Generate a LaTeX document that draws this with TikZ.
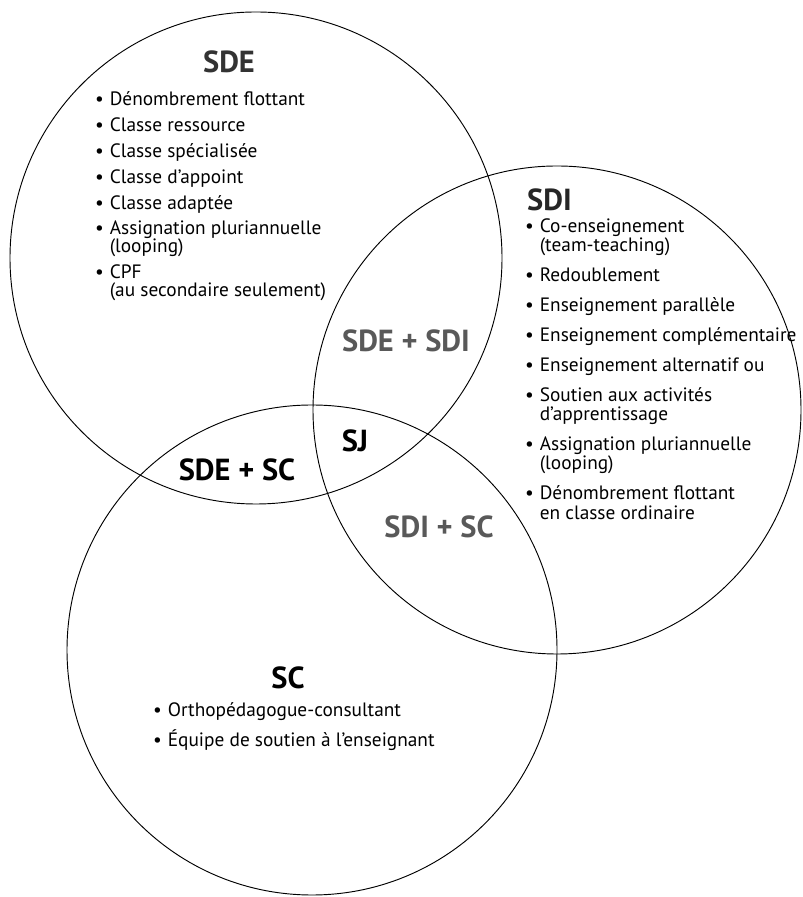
\documentclass[tikz,border=0pt]{standalone}
\usepackage{fontspec}
\setmainfont{PT Sans}
\usetikzlibrary{positioning}

\tikzset{
  cercle/.style={line width=0.8},
  titre/.style={font=\bfseries\fontsize{26}{28}\selectfont, inner sep=0},
  liste/.style={align=left, inner sep=0, anchor=north west, font=\fontsize{16.5}{15.4}\selectfont},
}
\newcommand{\puce}{\textbullet\hspace{5pt}}
\newcommand{\retrait}{\phantom{\textbullet}\hspace{5pt}}

\begin{document}
\begin{tikzpicture}
\useasboundingbox (0,0) rectangle (24.06,26.91);
% les trois cercles
\draw[cercle](7.68,19.17) circle (7.38);
\draw[cercle](16.71,14.61) circle (7.32);
\draw[cercle](9.36,7.41) circle (7.35);
% titres
\node[titre, text=black!80] (sde) at (6.87,25.05) {SDE};
\node[titre, text=black!85, anchor=west] (sdi) at (15.81,20.91) {SDI};
\node[titre] (sc) at (8.64,6.57) {SC};
\node[titre, text=black!65] (sdesdi) at (12.18,16.68) {SDE + SDI};
\node[titre] (sj) at (10.65,13.68) {SJ};
\node[titre] (sdesc) at (7.11,12.81) {SDE + SC};
\node[titre, text=black!65] (sdisc) at (13.17,11.10) {SDI + SC};
% listes
\node[liste] (sdeliste) at (2.85,24.17) {\puce Dénombrement flottant\\[6.7pt]
\puce Classe ressource\\[6.7pt]
\puce Classe spécialisée\\[6.7pt]
\puce Classe d’appoint\\[6.7pt]
\puce Classe adaptée\\[6.7pt]
\puce Assignation pluriannuelle\\
\retrait (looping)\\[6.7pt]
\puce CPF\\
\retrait (au secondaire seulement)};
\node[liste, font=\fontsize{16.5}{16.6}\selectfont] (sdiliste) at (15.75,20.36) {\puce Co-enseignement\\
\retrait (team-teaching)\\[8.9pt]
\puce Redoublement\\[8.9pt]
\puce Enseignement parallèle\\[8.9pt]
\puce Enseignement complémentaire\\[8.9pt]
\puce Enseignement alternatif ou\\[8.9pt]
\puce Soutien aux activités\\
\retrait d’apprentissage\\[8.9pt]
\puce Assignation pluriannuelle\\
\retrait (looping)\\[8.9pt]
\puce Dénombrement flottant\\
\retrait en classe ordinaire};
\node[liste, font=\fontsize{16.5}{25.5}\selectfont] (scliste) at (4.59,5.84) {\puce Orthopédagogue-consultant\\
\puce Équipe de soutien à l’enseignant};
\end{tikzpicture}
\end{document}
